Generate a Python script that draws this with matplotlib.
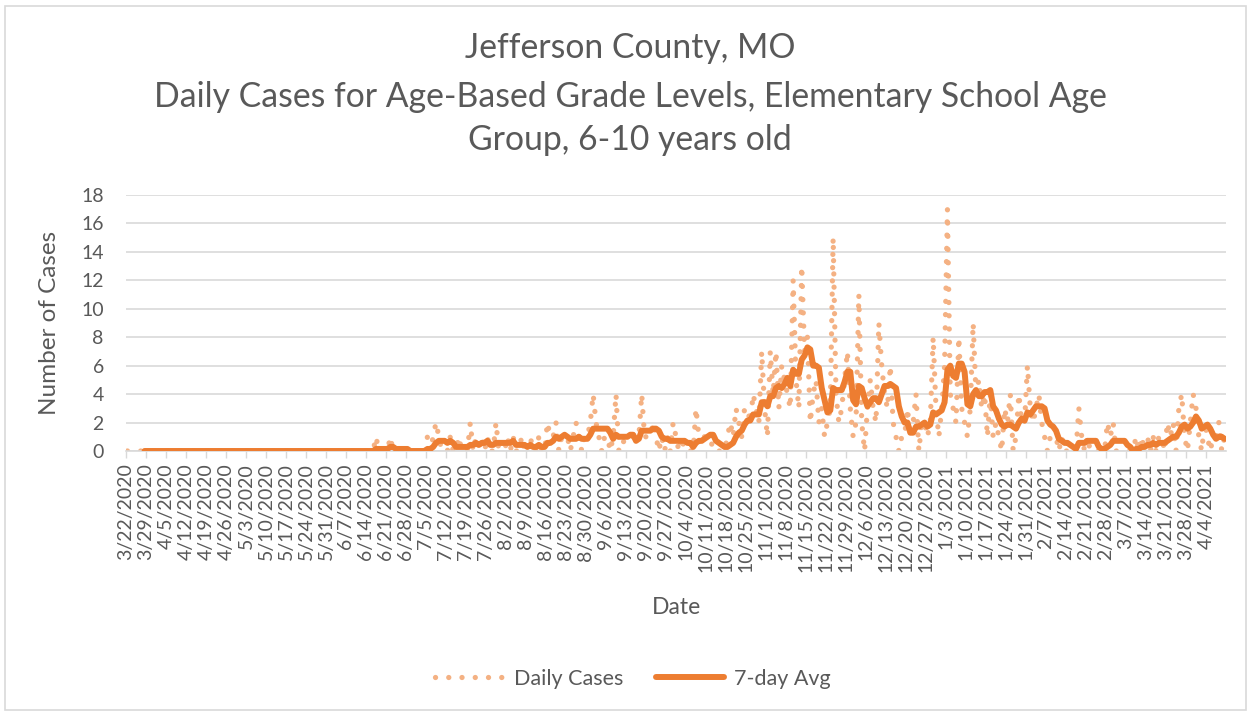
import pandas as pd
import matplotlib.pyplot as plt
from matplotlib.lines import Line2D
from matplotlib.patches import Rectangle

# daily cases, one row per week (Sunday..Saturday), starting 3/22/2020
daily_cases = (
    [0] * 7 * 12                    # 3/22 - 6/13
    + [0, 0, 0, 1, 0, 0, 0]         # 6/14
    + [0, 1, 0, 0, 0, 0, 0]         # 6/21
    + [0, 0, 0, 0, 0, 0, 0]         # 6/28
    + [1, 0, 1, 2, 1, 0, 0]         # 7/5
    + [0, 1, 0, 0, 1, 0, 0]         # 7/12
    + [0, 2, 0, 1, 0, 1, 0]         # 7/19
    + [1, 0, 0, 2, 0, 1, 0]         # 7/26
    + [1, 0, 1, 0, 0, 1, 0]         # 8/2
    + [0, 1, 0, 0, 1, 0, 0]         # 8/9
    + [2, 1, 1, 2, 0, 1, 1]         # 8/16
    + [1, 0, 1, 2, 1, 0, 1]         # 8/23
    + [1, 2, 4, 2, 1, 0, 1]         # 8/30
    + [1, 0, 1, 4, 0, 0, 1]         # 9/6
    + [1, 1, 1, 1, 1, 4, 1]         # 9/13
    + [1, 1, 2, 1, 0, 1, 0]         # 9/20
    + [1, 0, 2, 1, 0, 1, 0]         # 9/27
    + [0, 0, 0, 3, 1, 1, 1]         # 10/4
    + [1, 1, 0, 0, 0, 0, 0]         # 10/11
    + [1, 2, 1, 3, 2, 1, 3]         # 10/18
    + [3, 2, 4, 3, 2, 7, 3]         # 10/25
    + [1, 7, 4, 7, 3, 6, 5]         # 11/1
    + [4, 3, 12, 5, 3, 13, 7]       # 11/8
    + [8, 2, 4, 5, 2, 3, 1]         # 11/15
    + [2, 3, 15, 4, 2, 3, 5]        # 11/22
    + [7, 3, 1, 2, 11, 2, 0]        # 11/29
    + [3, 5, 3, 2, 9, 6, 4]         # 12/6
    + [3, 6, 2, 1, 0, 1, 1]         # 12/13
    + [3, 1, 2, 4, 0, 2, 2]         # 12/20
    + [1, 2, 8, 3, 1, 3, 6]         # 12/27
    + [17, 4, 3, 2, 8, 3, 2]        # 1/3
    + [1, 3, 9, 4, 5, 3, 4]         # 1/10
    + [1, 4, 1, 2, 1, 0, 3]         # 1/17
    + [2, 4, 0, 1, 4, 2, 2]         # 1/24
    + [6, 3, 2, 3, 4, 2, 1]         # 1/31
    + [0, 1, 1, 1, 0, 1, 0]         # 2/7
    + [0, 0, 0, 0, 3, 1, 0]         # 2/14
    + [1, 0, 0, 0, 0, 0, 0]         # 2/21
    + [2, 1, 2, 0, 0, 0, 0]         # 2/28
    + [0, 0, 0, 1, 0, 1, 0]         # 3/7
    + [1, 0, 1, 0, 1, 1, 0]         # 3/14
    + [2, 1, 2, 0, 3, 4, 1]         # 3/21
    + [0, 2, 4, 3, 1, 0, 2]         # 3/28
    + [1, 0, 1, 1, 2, 0, 1]         # 4/4
)

dates = pd.date_range("2020-03-22", periods=len(daily_cases), freq="D")
df = pd.DataFrame({"daily": daily_cases}, index=dates)
df["avg"] = df["daily"].rolling(7).mean()

tick_dates = dates[::7]
tick_labels = [f"{d.month}/{d.day}/{d.year}" for d in tick_dates]

FONT = "Lato"
GREY = "#595959"
LIGHT = "#D9D9D9"
ORANGE = "#ED7D31"
LIGHT_ORANGE = "#F4B183"
plt.rcParams["font.family"] = [FONT, "DejaVu Sans"]

fig = plt.figure(figsize=(12.52, 7.15), dpi=100)
ax = fig.add_axes([126 / 1252, 264 / 715, 1100 / 1252, 256 / 715])

dot_style = (0, (0.01, 2.5))
ax.plot(df.index, df["daily"], color=LIGHT_ORANGE, lw=3.8, linestyle=dot_style,
        dash_capstyle="round", zorder=2)
ax.plot(df.index, df["avg"], color=ORANGE, lw=4.3, solid_capstyle="round",
        solid_joinstyle="round", zorder=3)

half_day = pd.Timedelta(hours=12)
ax.set_xlim(dates[0] - half_day, dates[-1] + half_day)
ax.set_ylim(0, 18)
ax.set_yticks(range(0, 19, 2))
ax.grid(axis="y", color=LIGHT, lw=1.2, zorder=0)
ax.set_axisbelow(True)

ax.set_xticks(tick_dates - half_day)
ax.set_xticklabels(tick_labels, rotation=90, ha="center", va="top")
ax.tick_params(axis="x", length=5, width=1, color=LIGHT, labelsize=14,
               labelcolor=GREY, pad=4)
ax.tick_params(axis="y", length=0, labelsize=14, labelcolor=GREY, pad=16)

for side in ["top", "right", "left"]:
    ax.spines[side].set_visible(False)
ax.spines["bottom"].set_color(LIGHT)
ax.spines["bottom"].set_linewidth(1.2)

ax.set_ylabel("Number of Cases", fontsize=17.5, color=GREY)
ax.yaxis.set_label_coords(-0.06, 0.5)
ax.set_xlabel("Date", fontsize=16.5, color=GREY)
ax.xaxis.set_label_coords(0.5, -0.61)
ax.xaxis.label.set_va("center")

title_lines = ["Jefferson County, MO",
               "Daily Cases for Age-Based Grade Levels, Elementary School Age",
               "Group, 6-10 years old"]
for line, y in zip(title_lines, [48, 97, 140]):
    fig.text(630 / 1252, 1 - y / 715, line, ha="center", va="center",
             fontsize=24.3, color=GREY)

handles = [
    Line2D([], [], color=LIGHT_ORANGE, lw=3.8, linestyle=dot_style, dash_capstyle="round"),
    Line2D([], [], color=ORANGE, lw=4.3, solid_capstyle="round"),
]
fig.legend(handles, ["Daily Cases", "7-day Avg"], loc="center",
           bbox_to_anchor=(633 / 1252, 36 / 715), ncol=2, frameon=False,
           fontsize=15.5, labelcolor=GREY, handlelength=3.2, columnspacing=1.5,
           handletextpad=0.45)

fig.patches.append(Rectangle((5 / 1252, 5 / 715), 1241 / 1252, 704 / 715,
                             transform=fig.transFigure, fill=False,
                             edgecolor=LIGHT, lw=1.2))

fig.savefig("out.png", dpi=100)
